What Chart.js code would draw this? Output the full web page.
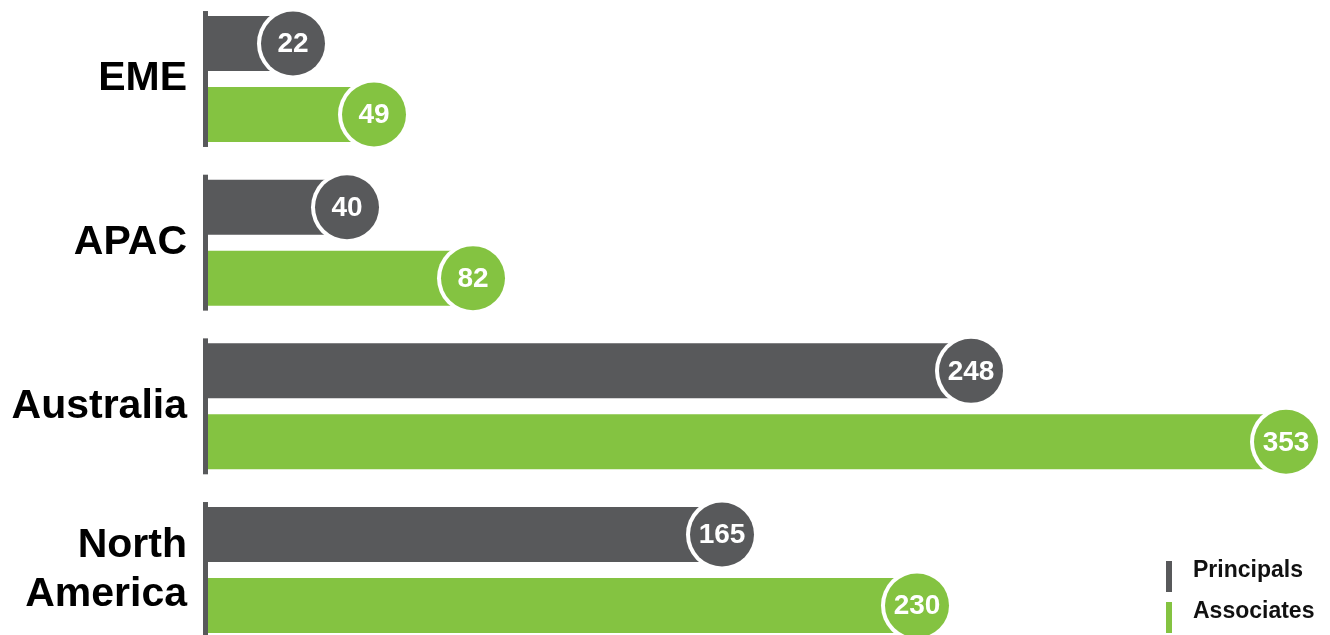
<!DOCTYPE html>
<html>
<head>
<meta charset="utf-8">
<title>Principals and Associates by region</title>
<script src="https://cdn.jsdelivr.net/npm/chart.js@4/dist/chart.umd.min.js"></script>
<style>
    html, body { margin: 0; padding: 0; background: #fff; }
    #wrap { width: 1330px; height: 635px; position: relative; }
</style>
</head>
<body>
<div id="wrap"><canvas id="regionChart"></canvas></div>
<script>
// Data
const regions = ['EME', 'APAC', 'Australia', ['North', 'America']];
const principals = [22, 40, 248, 165];
const associates = [49, 82, 353, 230];

const GRAY = '#58595b';
const GREEN = '#84c341';
const FONT = '"Liberation Sans", Arial, Helvetica, sans-serif';

// Short vertical rule at the start of each region's pair of bars
const groupRules = {
    id: 'groupRules',
    afterDatasetsDraw(chart) {
        const ctx = chart.ctx;
        const top = chart.getDatasetMeta(0).data;
        const bottom = chart.getDatasetMeta(1).data;
        ctx.save();
        ctx.fillStyle = GRAY;
        top.forEach(function(bar, i) {
            const y1 = bar.y - bar.height / 2 - 5;
            const y2 = bottom[i].y + bottom[i].height / 2 + 5;
            ctx.fillRect(chart.chartArea.left - 5, y1, 5, y2 - y1);
        });
        ctx.restore();
    }
};

// Round value badges at the end of every bar
const valueBadges = {
    id: 'valueBadges',
    afterDatasetsDraw(chart) {
        const ctx = chart.ctx;
        ctx.save();
        chart.data.datasets.forEach(function(ds, d) {
            chart.getDatasetMeta(d).data.forEach(function(bar, i) {
                const cx = bar.x + 19;
                const cy = bar.y;
                ctx.beginPath();
                ctx.arc(cx, cy, 36, 0, Math.PI * 2);
                ctx.fillStyle = '#fff';
                ctx.fill();
                ctx.beginPath();
                ctx.arc(cx, cy, 32, 0, Math.PI * 2);
                ctx.fillStyle = ds.backgroundColor;
                ctx.fill();
                ctx.fillStyle = '#fff';
                ctx.font = 'bold 28px ' + FONT;
                ctx.textAlign = 'center';
                ctx.textBaseline = 'middle';
                ctx.fillText(String(ds.data[i]), cx, cy + 1);
            });
        });
        ctx.restore();
    }
};

// Legend in the lower right corner
const cornerLegend = {
    id: 'cornerLegend',
    afterDraw(chart) {
        const ctx = chart.ctx;
        ctx.save();
        ctx.font = 'bold 23px ' + FONT;
        ctx.textAlign = 'left';
        ctx.textBaseline = 'alphabetic';
        chart.data.datasets.forEach(function(ds, d) {
            const y = 561 + d * 41;
            ctx.fillStyle = ds.backgroundColor;
            ctx.fillRect(1166, y, 6, 31);
            ctx.fillStyle = '#111';
            ctx.fillText(ds.label, 1193, y + 16);
        });
        ctx.restore();
    }
};

const chart = new Chart(document.getElementById('regionChart'), {
    type: 'bar',
    data: {
        labels: regions,
        datasets: [
            { label: 'Principals', data: principals, backgroundColor: GRAY, clip: false },
            { label: 'Associates', data: associates, backgroundColor: GREEN, clip: false }
        ]
    },
    options: {
        indexAxis: 'y',
        responsive: true,
        maintainAspectRatio: false,
        animation: false,
        categoryPercentage: 0.867,
        barPercentage: 0.775,
        layout: { padding: { top: 79, bottom: 65, left: 0, right: 0 } },
        plugins: {
            legend: { display: false },
            tooltip: { enabled: false }
        },
        scales: {
            x: {
                display: false,
                min: 0,
                max: 374
            },
            y: {
                offset: false,
                border: { display: false },
                grid: { display: false, drawTicks: false },
                ticks: {
                    autoSkip: false,
                    color: '#000',
                    padding: 21,
                    font: { family: FONT, size: 41, weight: 'bold', lineHeight: 1.2 }
                },
                afterFit(scale) {
                    scale.width = 208;
                }
            }
        }
    },
    plugins: [groupRules, valueBadges, cornerLegend]
});
</script>
</body>
</html>
